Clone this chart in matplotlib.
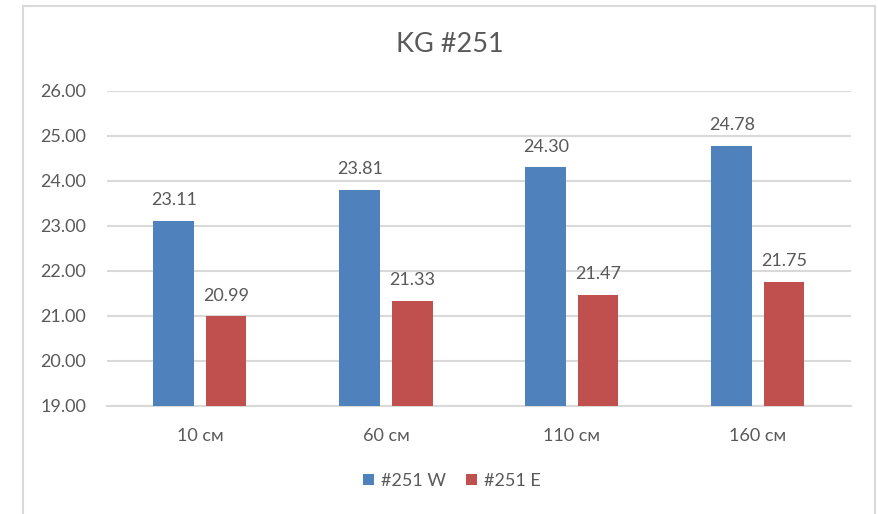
import matplotlib
matplotlib.use("Agg")
import matplotlib.pyplot as plt
from matplotlib.patches import Rectangle
import numpy as np

plt.rcParams['font.family'] = ['Lato', 'Open Sans', 'DejaVu Sans']

categories = ["10 см", "60 см", "110 см", "160 см"]
series_w = [23.11, 23.81, 24.30, 24.78]
series_e = [20.99, 21.33, 21.47, 21.75]
series_names = ["#251 W", "#251 E"]
title = "KG #251"

blue = "#4F81BD"
red = "#C0504D"
text_col = "#595959"
grid_col = "#D9D9D9"

fig = plt.figure(figsize=(8.79, 5.14), dpi=100)
ax = fig.add_axes([107/879, 1-406/514, (851-107)/879, (406-91)/514])

x = np.arange(len(categories))
width = 0.22
offset = 0.14
bars_w = ax.bar(x - offset, series_w, width, color=blue, label=series_names[0], zorder=3)
bars_e = ax.bar(x + offset, series_e, width, color=red, label=series_names[1], zorder=3)

for bars, vals in ((bars_w, series_w), (bars_e, series_e)):
    for b, v in zip(bars, vals):
        ax.annotate(f"{v:.2f}", (b.get_x() + b.get_width()/2, v),
                    xytext=(0, 15), textcoords="offset points",
                    ha="center", va="center", fontsize=13, color=text_col)

ax.set_xlim(-0.5, len(categories) - 0.5)
ax.set_ylim(19, 26)
ax.set_yticks(np.arange(19, 26.5, 1))
ax.set_yticklabels([f"{v:.2f}" for v in np.arange(19, 26.5, 1)])
ax.set_xticks(x)
ax.set_xticklabels(categories)
ax.tick_params(axis="both", length=0, colors=text_col, labelsize=13)
ax.tick_params(axis="x", pad=16)
ax.tick_params(axis="y", pad=15)

ax.grid(axis="y", color=grid_col, linewidth=1.5, zorder=0)
for s in ("top", "right", "left"):
    ax.spines[s].set_visible(False)
ax.spines["bottom"].set_color(grid_col)
ax.spines["bottom"].set_linewidth(1.5)

fig.text(450/879, 1-44/514, title, ha="center", va="center", fontsize=19.5, color=text_col)

leg = fig.legend(handles=[bars_w, bars_e], labels=series_names, loc="center",
                 bbox_to_anchor=(452/879, 1-481/514), ncol=2, frameon=False,
                 fontsize=13, handlelength=0.6, handleheight=0.6, handletextpad=0.4,
                 columnspacing=1.1)
for t in leg.get_texts():
    t.set_color(text_col)

fig.patches.append(Rectangle((23/879, -0.02), (875-23)/879, 1.02 - 5.5/514,
                             transform=fig.transFigure, fill=False,
                             edgecolor=grid_col, linewidth=1.5))

fig.savefig("out.png", dpi=100)
